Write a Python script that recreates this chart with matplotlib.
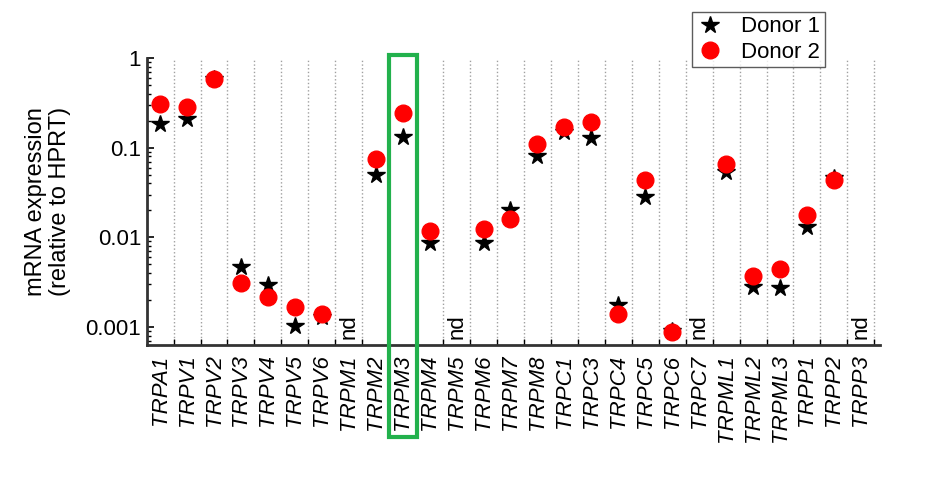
import numpy as np
import matplotlib
matplotlib.use('Agg')
import matplotlib.pyplot as plt
from matplotlib.patches import Rectangle
from matplotlib.transforms import blended_transform_factory

plt.rcParams['font.family'] = ['Liberation Sans', 'DejaVu Sans']

genes = ['TRPA1', 'TRPV1', 'TRPV2', 'TRPV3', 'TRPV4', 'TRPV5', 'TRPV6',
         'TRPM1', 'TRPM2', 'TRPM3', 'TRPM4', 'TRPM5', 'TRPM6', 'TRPM7', 'TRPM8',
         'TRPC1', 'TRPC3', 'TRPC4', 'TRPC5', 'TRPC6', 'TRPC7',
         'TRPML1', 'TRPML2', 'TRPML3', 'TRPP1', 'TRPP2', 'TRPP3']
nan = np.nan
# nan = not detected (nd)
donor1 = [0.183, 0.207, 0.59, 0.0047, 0.0029, 0.00103, 0.00129,
          nan, 0.049, 0.132, 0.0087, nan, 0.0087, 0.0204, 0.080,
          0.151, 0.129, 0.00174, 0.0282, 0.0009, nan,
          0.0537, 0.0028, 0.00274, 0.013, 0.046, nan]
donor2 = [0.306, 0.281, 0.578, 0.0031, 0.00215, 0.00166, 0.0014,
          nan, 0.0738, 0.241, 0.0117, nan, 0.0125, 0.0158, 0.111,
          0.168, 0.194, 0.0014, 0.0441, 0.000875, nan,
          0.0649, 0.00367, 0.00447, 0.0176, 0.0433, nan]
highlight = 'TRPM3'

fig = plt.figure(figsize=(9.28, 4.79), dpi=100)
ax = fig.add_axes([0.158, 0.280, 0.790, 0.599])

x = np.arange(len(genes))
for b in x + 0.5:
    ax.axvline(b, color='#a0a0a0', ls=':', lw=1.0, zorder=0)

ax.plot(x, donor1, ls='none', marker='*', ms=13, color='black', label='Donor 1', zorder=2)
ax.plot(x, donor2, ls='none', marker='o', ms=12, color='#ff0000', label='Donor 2', zorder=3)

ax.set_yscale('log')
ax.set_ylim(10 ** -3.2, 1)
ax.set_xlim(-0.5, 26.7)
ax.set_yticks([0.001, 0.01, 0.1, 1])
ax.set_yticklabels(['0.001', '0.01', '0.1', '1'])
ax.tick_params(axis='y', which='major', direction='in', length=5, width=1.2, labelsize=16, pad=4)
ax.tick_params(axis='y', which='minor', direction='in', length=3, width=1.0)

ax.set_xticks(x + 0.5, minor=True)
ax.set_xticks(x)
ax.set_xticklabels(genes, rotation=90, style='italic', fontsize=16)
ax.tick_params(axis='x', which='major', length=0, pad=7)
ax.tick_params(axis='x', which='minor', direction='in', length=4, width=1.0)

for side in ['top', 'right']:
    ax.spines[side].set_visible(False)
for side in ['left', 'bottom']:
    ax.spines[side].set_linewidth(2)
    ax.spines[side].set_color('#333333')

ax.set_ylabel('mRNA expression\n(relative to HPRT)', fontsize=17, labelpad=10, linespacing=1.15)

# nd labels
for i, (a, b) in enumerate(zip(donor1, donor2)):
    if np.isnan(a) and np.isnan(b):
        ax.text(i, 0.00074, 'nd', rotation=90, ha='center', va='bottom', fontsize=16)

# highlight box
trans = blended_transform_factory(ax.transData, ax.transAxes)
hi = genes.index(highlight)
ax.add_patch(Rectangle((hi - 0.52, -0.32), 1.04, 1.33, transform=trans, fill=False,
                       ec='#22b14c', lw=3, clip_on=False, zorder=5))

leg = ax.legend(loc='upper right', bbox_to_anchor=(0.925, 1.16), fontsize=16,
                frameon=True, fancybox=False, edgecolor='#333333', handletextpad=0.8,
                borderpad=0.2, labelspacing=0.2, handlelength=1.2, borderaxespad=0)
leg.get_frame().set_linewidth(1.0)

fig.savefig('out.png', dpi=100, facecolor='white')
